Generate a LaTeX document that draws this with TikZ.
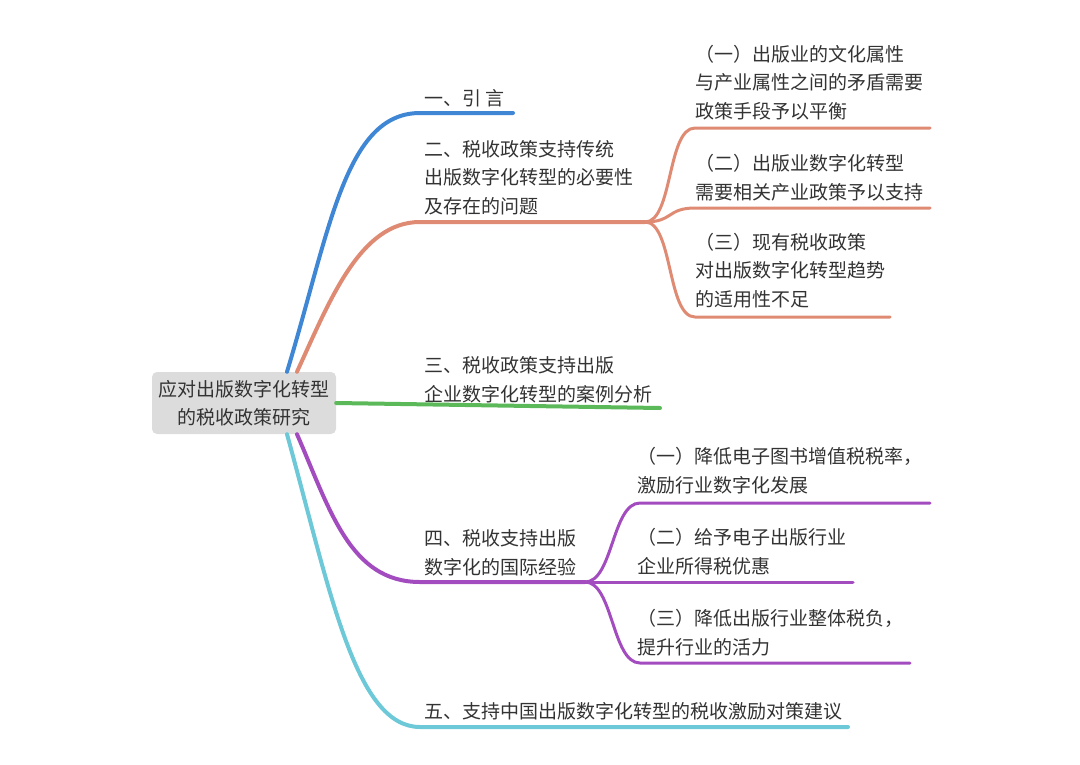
\documentclass[tikz,border=0pt]{standalone}
\usepackage{fontspec}
\setmainfont{Noto Sans CJK SC}
\usetikzlibrary{calc}
\definecolor{textgray}{HTML}{333333}
\definecolor{rootgray}{HTML}{DCDCDC}
\definecolor{cblue}{HTML}{3F87D5}
\definecolor{csalmon}{HTML}{DF8A73}
\definecolor{cgreen}{HTML}{5CB95A}
\definecolor{cpurple}{HTML}{A34CBF}
\definecolor{ccyan}{HTML}{6DC8D7}

\begin{document}
\begin{tikzpicture}[x=1pt, y=-1pt,
  font=\fontsize{19}{28.5}\selectfont,
  rootbox/.style={fill=rootgray, rounded corners=5pt, minimum width=184pt,
                  minimum height=62pt, align=center, text=textgray, inner sep=0pt},
  txt/.style={anchor=south west, inner sep=0pt, align=left, text=textgray},
  branch/.style={line width=4pt, line cap=round},
  twig/.style={line width=3pt, line cap=round}]

\useasboundingbox (0,0) rectangle (1080,764);

% ---- root ----
\node[rootbox] (root) at (244,403) {应对出版数字化转型\\的税收政策研究};

% ---- branch points ----
\coordinate (b1) at (420,113);  \coordinate (b1e) at (513,113);
\coordinate (b2) at (420,222);  \coordinate (b2e) at (645,222);
\coordinate (b3e) at (660,408);
\coordinate (b4) at (420,582);  \coordinate (b4e) at (585,582);
\coordinate (b5) at (420,727);  \coordinate (b5e) at (848,727);

\coordinate (s21) at (695,128); \coordinate (s21e) at (930,128);
\coordinate (s22) at (695,208); \coordinate (s22e) at (930,208);
\coordinate (s23) at (695,317); \coordinate (s23e) at (890,317);
\coordinate (s41) at (640,503); \coordinate (s41e) at (930,503);
\coordinate (s42) at (640,582); \coordinate (s42e) at (853,582);
\coordinate (s43) at (640,663); \coordinate (s43e) at (910,663);

% ---- texts ----
\node[txt] (t1) at (424,107) {一、引 言};
\node[txt] (t2) at (424,215) {二、税收政策支持传统\\出版数字化转型的必要性\\及存在的问题};
\node[txt] (t21) at (695,120) {（一）出版业的文化属性\\与产业属性之间的矛盾需要\\政策手段予以平衡};
\node[txt] (t22) at (695,201) {（二）出版业数字化转型\\需要相关产业政策予以支持};
\node[txt] (t23) at (695,308) {（三）现有税收政策\\对出版数字化转型趋势\\的适用性不足};
\node[txt] (t3) at (424,403) {三、税收政策支持出版\\企业数字化转型的案例分析};
\node[txt] (t4) at (424,576) {四、税收支持出版\\数字化的国际经验};
\node[txt] (t41) at (637,494) {（一）降低电子图书增值税税率，\\激励行业数字化发展};
\node[txt] (t42) at (637,575) {（二）给予电子出版行业\\企业所得税优惠};
\node[txt] (t43) at (637,656) {（三）降低出版行业整体税负，\\提升行业的活力};
\node[txt] (t5) at (424,720) {五、支持中国出版数字化转型的税收激励对策建议};

% ---- main branches ----
\draw[branch, cblue] ([xshift=43pt]root.north) .. controls (330,230) and (345,113) .. (b1) -- (b1e);
\draw[branch, csalmon] ([xshift=53pt]root.north) .. controls (330,300) and (360,222) .. (b2) -- (b2e);
\draw[branch, cgreen] (root.east) -- (b3e);
\draw[branch, cpurple] ([xshift=53pt]root.south) .. controls (330,510) and (350,582) .. (b4) -- (b4e);
\draw[branch, ccyan] ([xshift=43pt]root.south) .. controls (330,590) and (355,727) .. (b5) -- (b5e);

% ---- sub branches ----
\foreach \s in {s21,s22,s23}
  \draw[twig, csalmon] (b2e) .. controls ($(b2e)+(28,0)$) and ($(\s)+(-28,0)$) .. (\s) -- (\s e);
\foreach \s in {s41,s42,s43}
  \draw[twig, cpurple] (b4e) .. controls ($(b4e)+(28,0)$) and ($(\s)+(-28,0)$) .. (\s) -- (\s e);
\end{tikzpicture}
\end{document}
